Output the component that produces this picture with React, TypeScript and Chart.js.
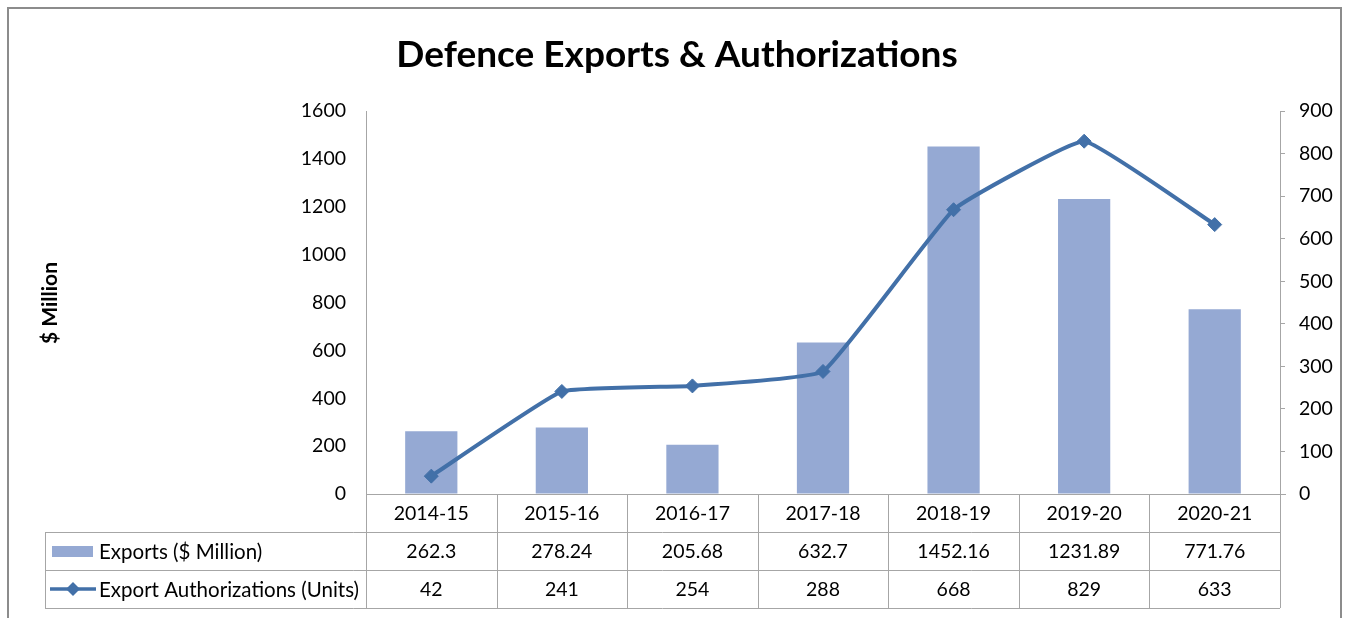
import React, { useEffect, useRef } from "react";
import { Chart, registerables } from "chart.js";

Chart.register(...registerables);

const categories = ["2014-15", "2015-16", "2016-17", "2017-18", "2018-19", "2019-20", "2020-21"];
const exportsMillion = [262.3, 278.24, 205.68, 632.7, 1452.16, 1231.89, 771.76];
const exportsLabels = ["262.3", "278.24", "205.68", "632.7", "1452.16", "1231.89", "771.76"];
const authorizations = [42, 241, 254, 288, 668, 829, 633];
const seriesNames = ["Exports ($ Million)", "Export Authorizations (Units)"];
const titleText = "Defence Exports & Authorizations";
const leftAxisTitle = "$ Million";

const BAR_COLOR = "#95A9D3";
const LINE_COLOR = "#4270A8";
const GRID_COLOR = "#A6A6A6";
const FONT = "Lato, 'Open Sans', sans-serif";
const TABLE_FONT_SIZE = 19.5;
const LEGEND_FONT_SIZE = 20.5;

const overlayPlugin = {
  id: "overlay",
  afterDraw(chart: any) {
    const ctx = chart.ctx as CanvasRenderingContext2D;
    const x = chart.scales.x;
    const area = chart.chartArea;
    const n = categories.length;
    const colW = (area.right - area.left) / n;
    const top = area.bottom;
    const rowH = 38;
    const tableLeft = 45;
    ctx.save();

    // outer frame
    ctx.strokeStyle = "#8C8C8C";
    ctx.lineWidth = 2;
    ctx.strokeRect(8, 8, 1333, 640);

    // title
    ctx.fillStyle = "#000";
    ctx.font = `bold 37px ${FONT}`;
    ctx.textAlign = "center";
    ctx.textBaseline = "middle";
    ctx.fillText(titleText, 677, 55);

    // left axis title
    ctx.save();
    ctx.translate(50, 303);
    ctx.rotate(-Math.PI / 2);
    ctx.font = `bold 21px ${FONT}`;
    ctx.fillText(leftAxisTitle, 0, 0);
    ctx.restore();

    // table lines
    ctx.strokeStyle = GRID_COLOR;
    ctx.lineWidth = 1;
    ctx.beginPath();
    ctx.moveTo(area.left, top + 0.5);
    ctx.lineTo(area.right + 6, top + 0.5);
    for (let r = 1; r <= 3; r++) {
      const yy = Math.round(top + r * rowH) + 0.5;
      ctx.moveTo(tableLeft, yy);
      ctx.lineTo(area.right, yy);
    }
    for (let i = 0; i <= n; i++) {
      const xx = Math.round(area.left + i * colW) + 0.5;
      ctx.moveTo(xx, top);
      ctx.lineTo(xx, top + 3 * rowH);
    }
    ctx.moveTo(tableLeft + 0.5, top + rowH);
    ctx.lineTo(tableLeft + 0.5, top + 3 * rowH);
    ctx.stroke();

    // cell text
    ctx.fillStyle = "#000";
    ctx.font = `${TABLE_FONT_SIZE}px ${FONT}`;
    ctx.textAlign = "center";
    ctx.textBaseline = "middle";
    categories.forEach((c, i) => {
      const cx = x.getPixelForValue(i);
      ctx.fillText(c, cx, top + rowH * 0.5 + 1);
      ctx.fillText(exportsLabels[i], cx, top + rowH * 1.5 + 1);
      ctx.fillText(String(authorizations[i]), cx, top + rowH * 2.5 + 1);
    });

    // legend keys
    ctx.fillStyle = BAR_COLOR;
    ctx.fillRect(52, top + rowH * 1.5 - 5, 41, 11);
    ctx.strokeStyle = LINE_COLOR;
    ctx.lineWidth = 3.5;
    ctx.beginPath();
    const ly = top + rowH * 2.5;
    ctx.moveTo(50, ly);
    ctx.lineTo(96, ly);
    ctx.stroke();
    ctx.fillStyle = LINE_COLOR;
    ctx.beginPath();
    ctx.moveTo(73 - 7, ly);
    ctx.lineTo(73, ly - 7);
    ctx.lineTo(73 + 7, ly);
    ctx.lineTo(73, ly + 7);
    ctx.closePath();
    ctx.fill();

    ctx.fillStyle = "#000";
    ctx.textAlign = "left";
    ctx.font = `${LEGEND_FONT_SIZE}px ${FONT}`;
    ctx.fillText(seriesNames[0], 99, top + rowH * 1.5 + 1);
    ctx.fillText(seriesNames[1], 99, top + rowH * 2.5 + 1);
    ctx.restore();
  },
};

export default function App() {
  const ref = useRef<HTMLCanvasElement | null>(null);
  useEffect(() => {
    document.body.style.margin = "0";
    const canvas = ref.current!;
    const chart = new Chart(canvas, {
      type: "bar",
      data: {
        labels: categories,
        datasets: [
          {
            type: "line",
            label: seriesNames[1],
            data: authorizations,
            yAxisID: "y1",
            borderColor: LINE_COLOR,
            backgroundColor: LINE_COLOR,
            borderWidth: 4,
            pointStyle: "rectRot",
            pointRadius: 7,
            pointBorderWidth: 1,
            pointBackgroundColor: LINE_COLOR,
            pointBorderColor: LINE_COLOR,
            tension: 0.1,
            order: 0,
          } as any,
          {
            type: "bar",
            label: seriesNames[0],
            data: exportsMillion,
            yAxisID: "y",
            backgroundColor: BAR_COLOR,
            barPercentage: 0.4,
            categoryPercentage: 1,
            order: 1,
          },
        ],
      },
      options: {
        responsive: false,
        animation: false,
        layout: { padding: { top: 111, bottom: 124, left: 0, right: 0 } },
        plugins: { legend: { display: false }, title: { display: false }, tooltip: { enabled: false } },
        scales: {
          x: { display: false, offset: true },
          y: {
            position: "left",
            min: 0,
            max: 1600,
            ticks: {
              stepSize: 200,
              padding: 20,
              color: "#000",
              font: { family: FONT, size: 19.5 },
              callback: (v: any) => String(v),
            },
            grid: { drawOnChartArea: false, drawTicks: false },
            border: { display: true, color: GRID_COLOR },
            afterFit: (s: any) => { s.width = 366; },
          },
          y1: {
            position: "right",
            min: 0,
            max: 900,
            ticks: {
              stepSize: 100,
              padding: 14,
              color: "#000",
              font: { family: FONT, size: 19.5 },
              callback: (v: any) => String(v),
            },
            grid: { drawOnChartArea: false, drawTicks: true, tickLength: 5, color: GRID_COLOR },
            border: { display: true, color: GRID_COLOR },
            afterFit: (s: any) => { s.width = 1349 - 1280; },
          },
        },
      },
      plugins: [overlayPlugin],
    });
    return () => chart.destroy();
  }, []);
  return (
    <div style={{ position: "fixed", left: 0, top: 0, width: 1349, height: 618 }}>
      <canvas ref={ref} width={1349} height={618} style={{ width: 1349, height: 618 }} />
    </div>
  );
}
